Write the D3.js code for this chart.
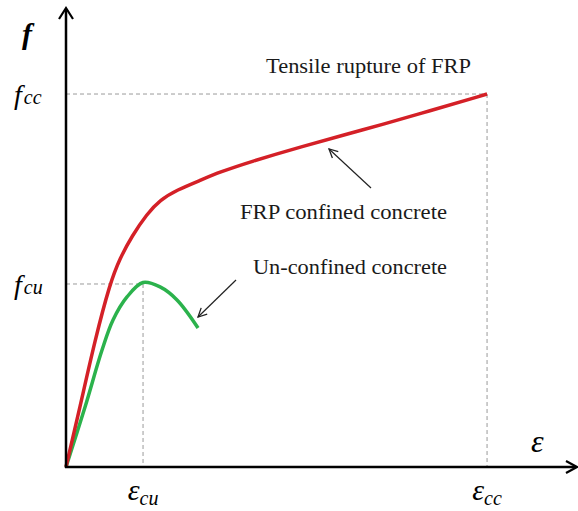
<!DOCTYPE html>
<html><head><meta charset="utf-8">
<script src="https://cdn.jsdelivr.net/npm/d3@7"></script>
<style>html,body{margin:0;padding:0;background:#fff;}svg{display:block;}</style>
</head><body>
<svg id="chart" width="578" height="511"></svg>
<script>
// Data (strain and stress in normalised units)
const epsCu = 0.975, fCu = 1.0;
const epsCc = 5.329, fCc = 2.038;
const confinedStrain = [0, 0.177, 0.367, 0.557, 0.684, 0.835, 1.025, 1.190, 1.405, 1.696, 1.949, 2.329, 2.962, 3.759, 4.481, 5.329];
const confinedStress = [0, 0.328, 0.694, 1.005, 1.142, 1.262, 1.383, 1.459, 1.514, 1.566, 1.612, 1.667, 1.749, 1.842, 1.930, 2.038];
const unconfinedStrain = [0, 0.241, 0.456, 0.595, 0.772, 0.975, 1.190, 1.405, 1.671];
const unconfinedStress = [0, 0.328, 0.639, 0.803, 0.929, 1.008, 0.984, 0.913, 0.760];
const xTickLabels = [{v: epsCu, sub: "cu"}, {v: epsCc, sub: "cc"}];
const yTickLabels = [{v: fCu, sub: "cu"}, {v: fCc, sub: "cc"}];
const annotations = ["Tensile rupture of FRP", "FRP confined concrete", "Un-confined concrete"];

const svg = d3.select("#chart");
const x = d3.scaleLinear().domain([0, 6.48]).range([66, 578]);
const y = d3.scaleLinear().domain([0, 2.508]).range([467, 8]);
const serif = "'Liberation Serif','Times New Roman',serif";

// dashed guides
const guide = (x1,y1,x2,y2) => svg.append("line").attr("x1",x1).attr("y1",y1).attr("x2",x2).attr("y2",y2)
  .attr("stroke","#9a9a9a").attr("stroke-width",1).attr("stroke-dasharray","4,3");
guide(x(0), y(fCc), x(epsCc), y(fCc));
guide(x(epsCc), y(fCc), x(epsCc), y(0));
guide(x(0), y(fCu), x(epsCu), y(fCu));
guide(x(epsCu), y(fCu), x(epsCu), y(0));

// curves
const lineG = d3.line().x(d=>x(d[0])).y(d=>y(d[1])).curve(d3.curveCatmullRom.alpha(0.5));
const lineR = d3.line().x(d=>x(d[0])).y(d=>y(d[1])).curve(d3.curveBasis);
svg.append("path").datum(d3.zip(unconfinedStrain, unconfinedStress)).attr("d", lineG)
  .attr("fill","none").attr("stroke","#2bb24c").attr("stroke-width",3.5);
svg.append("path").datum(d3.zip(confinedStrain, confinedStress)).attr("d", lineR)
  .attr("fill","none").attr("stroke","#d42027").attr("stroke-width",3.5);

// axes
svg.append("line").attr("x1",x(0)).attr("y1",y(0)+1).attr("x2",x(0)).attr("y2",9)
  .attr("stroke","#000").attr("stroke-width",2.5);
svg.append("line").attr("x1",x(0)-1).attr("y1",y(0)).attr("x2",576).attr("y2",y(0))
  .attr("stroke","#000").attr("stroke-width",2.5);
svg.append("path").attr("d",`M${x(0)-7},${19} L${x(0)},${8} L${x(0)+7},${19}`)
  .attr("fill","none").attr("stroke","#000").attr("stroke-width",2.2);
svg.append("path").attr("d",`M${566},${y(0)-6} L${577},${y(0)} L${566},${y(0)+6}`)
  .attr("fill","none").attr("stroke","#000").attr("stroke-width",2.2);

// axis titles
svg.append("text").attr("x",22).attr("y",44).attr("font-family",serif).attr("font-style","italic")
  .attr("font-weight","bold").attr("font-size",30).text("f");
svg.append("text").attr("x",531).attr("y",452).attr("font-family",serif).attr("font-style","italic")
  .attr("font-size",32).text("ε");

// tick labels
yTickLabels.forEach(t => {
  const tx = svg.append("text").attr("x",14).attr("y",y(t.v)+10).attr("font-family",serif).attr("font-style","italic");
  tx.append("tspan").attr("font-size",28).text("f");
  tx.append("tspan").attr("font-size",20).attr("dx",2).text(t.sub);
});
xTickLabels.forEach(t => {
  const tx = svg.append("text").attr("x",x(t.v)).attr("y",500).attr("text-anchor","middle").attr("font-family",serif).attr("font-style","italic");
  tx.append("tspan").attr("font-size",30).text("ε");
  tx.append("tspan").attr("font-size",20).attr("dy",5).text(t.sub);
});

// annotations
const ann = [[annotations[0], 266, 73, 205], [annotations[1], 240, 219, 207], [annotations[2], 253, 274, 194]];
ann.forEach(a => svg.append("text").attr("x",a[1]).attr("y",a[2]).attr("font-family",serif)
  .attr("font-size",21).attr("fill","#1a1a1a").attr("textLength",a[3]).attr("lengthAdjust","spacingAndGlyphs").text(a[0]));

// annotation arrows
svg.append("defs").append("marker").attr("id","ah").attr("viewBox","0 0 10 10").attr("refX",9).attr("refY",5)
  .attr("markerWidth",9).attr("markerHeight",9).attr("orient","auto")
  .append("path").attr("d","M1,1 L9,5 L1,9").attr("fill","none").attr("stroke","#222").attr("stroke-width",1.2);
const arrow = (x1,y1,x2,y2) => svg.append("line").attr("x1",x1).attr("y1",y1).attr("x2",x2).attr("y2",y2)
  .attr("stroke","#222").attr("stroke-width",1.2).attr("marker-end","url(#ah)");
arrow(371, 188, 329, 149);
arrow(236, 280, 198, 317);
</script>
</body></html>
